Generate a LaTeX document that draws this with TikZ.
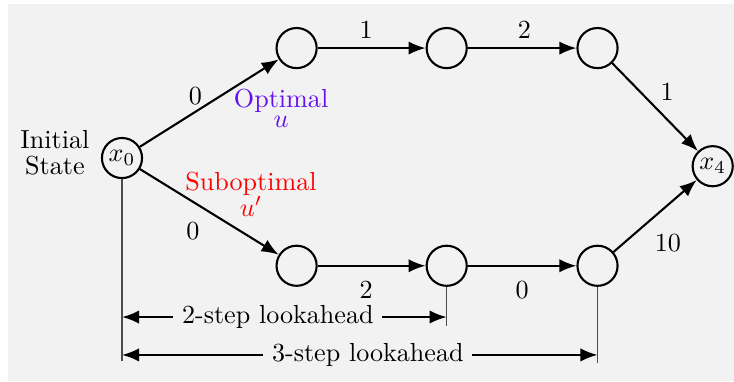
\documentclass[tikz,border=0pt]{standalone}
\usepackage{xcolor}
\usepackage{tikz}
\usetikzlibrary{arrows.meta,positioning}
\definecolor{bggray}{gray}{0.95}
\definecolor{optblue}{RGB}{102,16,242}
\tikzset{
  st/.style={draw,circle,thick,minimum size=0.54cm,inner sep=0pt},
  arr/.style={-{Latex[length=2.3mm,width=1.8mm]},thick},
  darr/.style={{Latex[length=2.3mm,width=1.8mm]}-{Latex[length=2.3mm,width=1.8mm]},thick},
  guide/.style={black!70,line width=0.5pt},
  lbl/.style={fill=bggray},
}

\begin{document}
\begin{tikzpicture}
\useasboundingbox (-1.642,-3.001) rectangle (8.237,2.127);
\fill[bggray] (-1.534,-3.001) rectangle (8.237,2.073);
\node[st] (x0) at (0,0) {$x_0$};
\foreach \i/\x in {1/2.35,2/4.37,3/6.4} {
  \node[st] (a\i) at (\x,1.48) {};
  \node[st] (b\i) at (\x,-1.45) {};
}
\node[st] (x4) at (7.95,-0.11) {$x_4$};
\node[left=0.03cm of x0,align=center,yshift=0.07cm] (init) {Initial\\[-2pt]State};
% lookahead
\coordinate (g0) at (0,-2.73);
\coordinate (g2) at (4.37,-2.26);
\coordinate (g3) at (6.4,-2.76);
\draw[guide] (x0) -- (g0);
\draw[guide] (b2) -- (g2);
\draw[guide] (b3) -- (g3);
\coordinate (l2a) at (0,-2.14);
\coordinate (l2b) at (4.37,-2.14);
\coordinate (l3a) at (0,-2.65);
\coordinate (l3b) at (6.4,-2.65);
\draw[darr] (l2a) -- (l2b) node[pos=0.48,lbl] (la2) {2-step lookahead};
\draw[darr] (l3a) -- (l3b) node[pos=0.517,lbl] (la3) {3-step lookahead};
% upper path
\draw[arr] (x0) -- (a1) node[pos=0.4,above,yshift=-1pt] (w01) {0}
  node[pos=0.67,anchor=north west,inner sep=0pt,align=center,text=optblue] (opt) {Optimal\\[-4.3pt]$u$};
\draw[arr] (a1) -- (a2) node[pos=0.45,above] (w12) {1};
\draw[arr] (a2) -- (a3) node[pos=0.52,above] (w23) {2};
\draw[arr] (a3) -- (x4) node[pos=0.45,above right,yshift=-2.7pt] (w34) {1};
% lower path
\draw[arr] (x0) -- (b1) node[pos=0.5,below left] (v01) {0}
  node[pos=0.32,anchor=west,inner sep=0pt,align=center,text=red,yshift=1pt] (subopt) {Suboptimal\\[-2pt]$u'$};
\draw[arr] (b1) -- (b2) node[pos=0.45,below=0.8mm] (v12) {2};
\draw[arr] (b2) -- (b3) node[pos=0.5,below=0.8mm] (v23) {0};
\draw[arr] (b3) -- (x4) node[pos=0.38,below right] (v34) {10};
\end{tikzpicture}
\end{document}
